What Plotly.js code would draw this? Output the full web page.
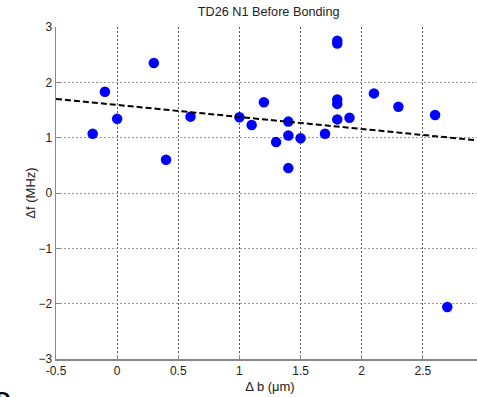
<!DOCTYPE html>
<html>
<head>
<meta charset="utf-8">
<script src="https://cdn.plot.ly/plotly-3.0.1.min.js"></script>
<style>
html,body{margin:0;padding:0;overflow:hidden;background:#fff;}
#chart{width:484px;height:397px;}
</style>
</head>
<body>
<div id="chart"></div>
<script>
// Measured points: Δb (µm) vs Δf (MHz)
var deltaB = [-0.2, -0.1, 0.0, 0.3, 0.4, 0.6, 1.0, 1.1, 1.2, 1.3, 1.4, 1.4, 1.4, 1.5, 1.7, 1.8, 1.8, 1.8, 1.8, 1.8, 1.9, 2.1, 2.3, 2.6, 2.7];
var deltaF = [1.07, 1.83, 1.34, 2.35, 0.60, 1.38, 1.37, 1.23, 1.64, 0.92, 1.29, 1.04, 0.45, 0.99, 1.07, 2.70, 2.75, 1.69, 1.61, 1.33, 1.36, 1.80, 1.56, 1.41, -2.06];
// Linear fit end points
var fitX = [-0.5, 3.0];
var fitY = [1.70, 0.94];
var xTicks = [-0.5, 0, 0.5, 1, 1.5, 2, 2.5];
var xTickLabels = ['-0.5', '0', '0.5', '1', '1.5', '2', '2.5'];
var yTicks = [-3, -2, -1, 0, 1, 2, 3];

var tickFont = {family: 'Liberation Sans, Arial, sans-serif', size: 12, color: '#222'};
var titleFont = {family: 'Liberation Sans, Arial, sans-serif', size: 12.7, color: '#222'};
var axisTitleFont = {family: 'Liberation Sans, Arial, sans-serif', size: 13, color: '#222'};

var traces = [
  {x: deltaB, y: deltaF, type: 'scatter', mode: 'markers',
   marker: {color: '#0000ff', size: 10.5}, showlegend: false, hoverinfo: 'x+y'},
  {x: fitX, y: fitY, type: 'scatter', mode: 'lines',
   line: {color: '#000', width: 2, dash: '6px,3px'}, showlegend: false}
];

var layout = {
  width: 484, height: 397,
  margin: {l: 56, r: 0, t: 27, b: 38},
  paper_bgcolor: '#fff', plot_bgcolor: '#fff',
  font: tickFont,
  title: {text: 'TD26 N1 Before Bonding', font: titleFont, x: 0.555, xanchor: 'center', y: 0.97, yanchor: 'middle', yref: 'container'},
  xaxis: {
    range: [-0.5, 3.0], tickvals: xTicks, ticktext: xTickLabels,
    showgrid: true, gridcolor: '#555', griddash: '2px,2px', gridwidth: 1,
    zeroline: false, showline: true, linecolor: '#888', linewidth: 1.5,
    ticks: 'inside', ticklen: 4, tickcolor: '#888',
    tickfont: tickFont,
    title: {text: 'Δ b (μm)', font: axisTitleFont, standoff: 5}
  },
  yaxis: {
    range: [-3, 3], tickvals: yTicks,
    showgrid: true, gridcolor: '#999', griddash: '2px,2px', gridwidth: 1,
    zeroline: false, showline: true, linecolor: '#888', linewidth: 1.5,
    ticks: 'inside', ticklen: 4, tickcolor: '#888',
    tickfont: tickFont,
    title: {text: 'Δf (MHz)', font: axisTitleFont, standoff: 0}
  },
  annotations: [
    {text: '<b>D</b>', xref: 'paper', yref: 'paper', x: -56/428, y: -38/332,
     xanchor: 'left', yanchor: 'middle', xshift: -6, yshift: -2, showarrow: false,
     font: {family: 'Liberation Sans, Arial, sans-serif', size: 20, color: '#000'}}
  ]
};

Plotly.newPlot('chart', traces, layout, {displayModeBar: false, staticPlot: true});
</script>
</body>
</html>
